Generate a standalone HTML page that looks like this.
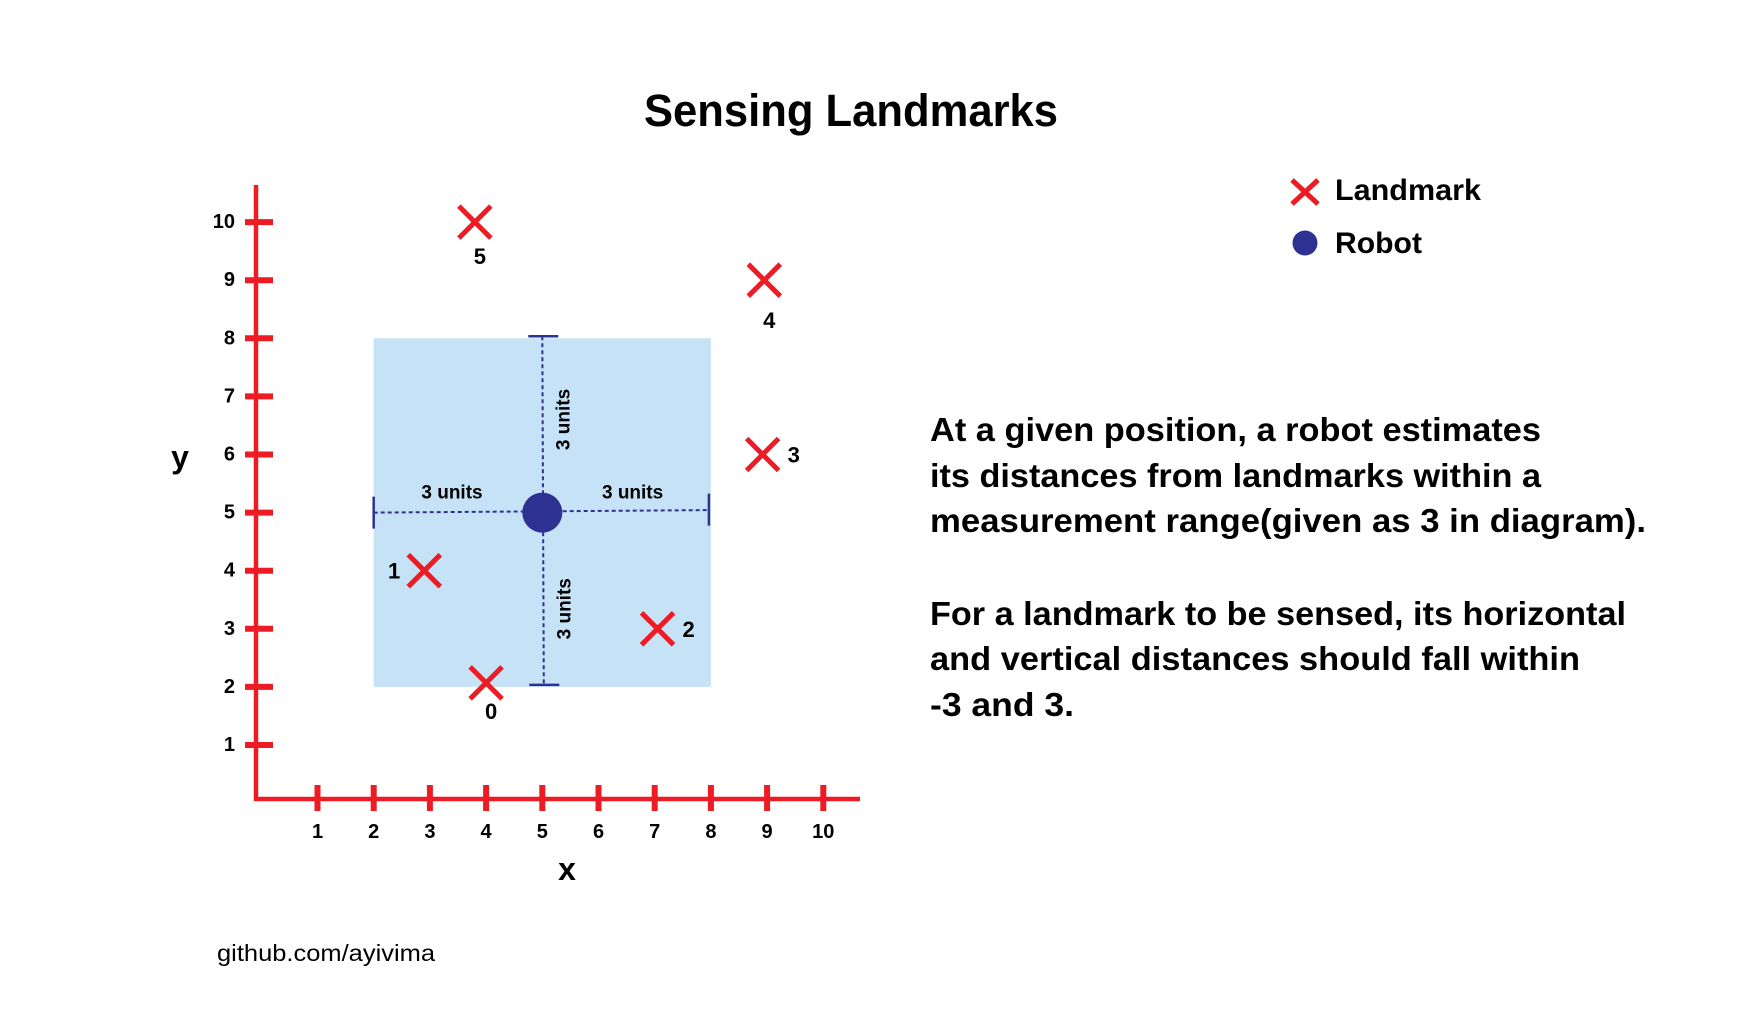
<!DOCTYPE html>
<html><head><meta charset="utf-8"><style>
html,body{margin:0;padding:0;background:#fff;}
svg{display:block;}
text{font-family:"Liberation Sans",sans-serif;fill:#000;}
.b{font-weight:bold;}
</style></head><body>
<svg id="chart" width="1758" height="1032" viewBox="0 0 1758 1032" xmlns="http://www.w3.org/2000/svg">
<text class="b" x="644" y="126" font-size="45" textLength="414" lengthAdjust="spacingAndGlyphs">Sensing Landmarks</text>
<g id="plot"></g>
<g>
 <g>
  <line x1="1292" y1="180" x2="1318" y2="204" stroke="#ed1c24" stroke-width="5"/>
  <line x1="1318" y1="180" x2="1292" y2="204" stroke="#ed1c24" stroke-width="5"/>
  <text class="b" x="1335" y="200" font-size="30" textLength="146" lengthAdjust="spacingAndGlyphs">Landmark</text>
 </g>
 <g>
  <circle cx="1305" cy="243" r="12.5" fill="#2e3192"/>
  <text class="b" x="1335" y="253" font-size="30" textLength="87" lengthAdjust="spacingAndGlyphs">Robot</text>
 </g>
</g>
<g font-size="33" class="b">
 <text class="b" x="930" y="441" textLength="611" lengthAdjust="spacingAndGlyphs">At a given position, a robot estimates</text>
 <text class="b" x="930" y="487" textLength="611" lengthAdjust="spacingAndGlyphs">its distances from landmarks within a</text>
 <text class="b" x="930" y="532" textLength="716" lengthAdjust="spacingAndGlyphs">measurement range(given as 3 in diagram).</text>
 <text class="b" x="930" y="625" textLength="696" lengthAdjust="spacingAndGlyphs">For a landmark to be sensed, its horizontal</text>
 <text class="b" x="930" y="670" textLength="650" lengthAdjust="spacingAndGlyphs">and vertical distances should fall within</text>
 <text class="b" x="930" y="716" textLength="144" lengthAdjust="spacingAndGlyphs">-3 and 3.</text>
</g>
<text x="217" y="961" font-size="23" textLength="218" lengthAdjust="spacingAndGlyphs">github.com/ayivima</text>
</svg>
<script>
const xTicks = [1,2,3,4,5,6,7,8,9,10];
const yTicks = [1,2,3,4,5,6,7,8,9,10];
const landmarkIds = ["0","1","2","3","4","5"];
const landmarkX = [4, 2.9, 7.05, 8.92, 8.95, 3.8];
const landmarkY = [2.07, 4, 3, 6, 9, 10];
const robotX = [5];
const robotY = [5];
const sensingRange = [3];
// label placement: side of the mark where each id is printed
const labelSide = ["below","left","right","right","below","below"];

const NS = "http://www.w3.org/2000/svg";
const sx = v => 317.5 + (v - 1) * 56.2;
const sy = v => 745 - (v - 1) * 58.1;
const plot = document.getElementById('plot');
function mk(tag, attrs, parent){
  const e = document.createElementNS(NS, tag);
  for (const k in attrs) e.setAttribute(k, attrs[k]);
  (parent || plot).appendChild(e);
  return e;
}
const RED = "#ed1c24", BLUE = "#2e3192";

const r = sensingRange[0], rx = robotX[0], ry = robotY[0];
let box = mk('rect', {x: sx(rx - r), y: sy(ry + r), width: sx(rx + r) - sx(rx - r), height: sy(ry - r) - sy(ry + r), fill: "#c6e2f6"});



const dash = {stroke: BLUE, "stroke-width": 2, "stroke-dasharray": "4 3", fill: "none"};
let hl = mk('line', Object.assign({x1: sx(rx - r), y1: sy(ry), x2: sx(rx + r) - 2, y2: sy(ry) - 2.5}, dash));


let vl = mk('line', Object.assign({x1: sx(rx), y1: sy(ry + r) - 2, x2: sx(rx) + 1.5, y2: sy(ry - r) - 2}, dash));


const capS = {stroke: BLUE, "stroke-width": 2.5};
[[sx(rx - r), sy(ry) - 16, sx(rx - r), sy(ry) + 16], [sx(rx + r) - 2, sy(ry) - 19, sx(rx + r) - 2, sy(ry) + 13],
 [sx(rx) - 14, sy(ry + r) - 2, sx(rx) + 16, sy(ry + r) - 2], [sx(rx) - 13, sy(ry - r) - 2, sx(rx) + 17, sy(ry - r) - 2]].forEach(c => {
  let cap = mk('line', Object.assign({x1: c[0], y1: c[1], x2: c[2], y2: c[3]}, capS));
  
  
});
function unitsLabel(x, y, rot){
  let t = mk('text', {x: x, y: y, "font-size": 19, "font-weight": "bold", "text-anchor": "middle", transform: rot ? `rotate(-90 ${x} ${y})` : ""});
  t.textContent = r + " units";
  
  
}
unitsLabel((sx(rx - r) + sx(rx)) / 2 - 6, sy(ry) - 14);
unitsLabel((sx(rx + r) + sx(rx)) / 2 + 6, sy(ry) - 14);
unitsLabel(sx(rx) + 27, (sy(ry + r) + sy(ry)) / 2 - 6, true);
unitsLabel(sx(rx) + 28, (sy(ry - r) + sy(ry)) / 2 + 9, true);

let ya = mk('line', {x1: 256, y1: 185, x2: 256, y2: 801, stroke: RED, "stroke-width": 4.5});


let xa = mk('line', {x1: 254, y1: 799, x2: 860, y2: 799, stroke: RED, "stroke-width": 4.5});


yTicks.forEach(v => {
  let t = mk('line', {x1: 245, y1: sy(v), x2: 273, y2: sy(v), stroke: RED, "stroke-width": 6});
  
  
  let l = mk('text', {x: 235, y: sy(v) + 6, "font-size": 20, "font-weight": "bold", "text-anchor": "end"});
  l.textContent = v;
  
  
});
xTicks.forEach(v => {
  let t = mk('line', {x1: sx(v), y1: 785, x2: sx(v), y2: 811, stroke: RED, "stroke-width": 6});
  
  
  let l = mk('text', {x: sx(v), y: 838, "font-size": 20, "font-weight": "bold", "text-anchor": "middle"});
  l.textContent = v;
  
  
});
let yt = mk('text', {x: 180, y: 468, "font-size": 32, "font-weight": "bold", "text-anchor": "middle"});
yt.textContent = "y";


let xt = mk('text', {x: 567, y: 880, "font-size": 32, "font-weight": "bold", "text-anchor": "middle"});
xt.textContent = "x";



let rb = mk('circle', {cx: sx(rx), cy: sy(ry), r: 20, fill: BLUE});



landmarkIds.forEach((id, i) => {
  const cx = sx(landmarkX[i]), cy = sy(landmarkY[i]), h = 16;
  const g = mk('g', {});
  
  
  mk('line', {x1: cx - h, y1: cy - h, x2: cx + h, y2: cy + h, stroke: RED, "stroke-width": 5}, g);
  mk('line', {x1: cx + h, y1: cy - h, x2: cx - h, y2: cy + h, stroke: RED, "stroke-width": 5}, g);
  let lx = cx, ly = cy, anchor = "middle";
  if (labelSide[i] === "below") { lx = cx + 5; ly = cy + 42; if (cy > 600) ly = cy + 36; if (i === 4) ly = cy + 48; }
  else if (labelSide[i] === "left") { lx = cx - 24; ly = cy + 8; anchor = "end"; }
  else { lx = cx + 25; ly = cy + 8; anchor = "start"; }
  const t = mk('text', {x: lx, y: ly, "font-size": 22, "font-weight": "bold", "text-anchor": anchor}, g);
  t.textContent = id;
  
  
});
</script>
</body></html>
